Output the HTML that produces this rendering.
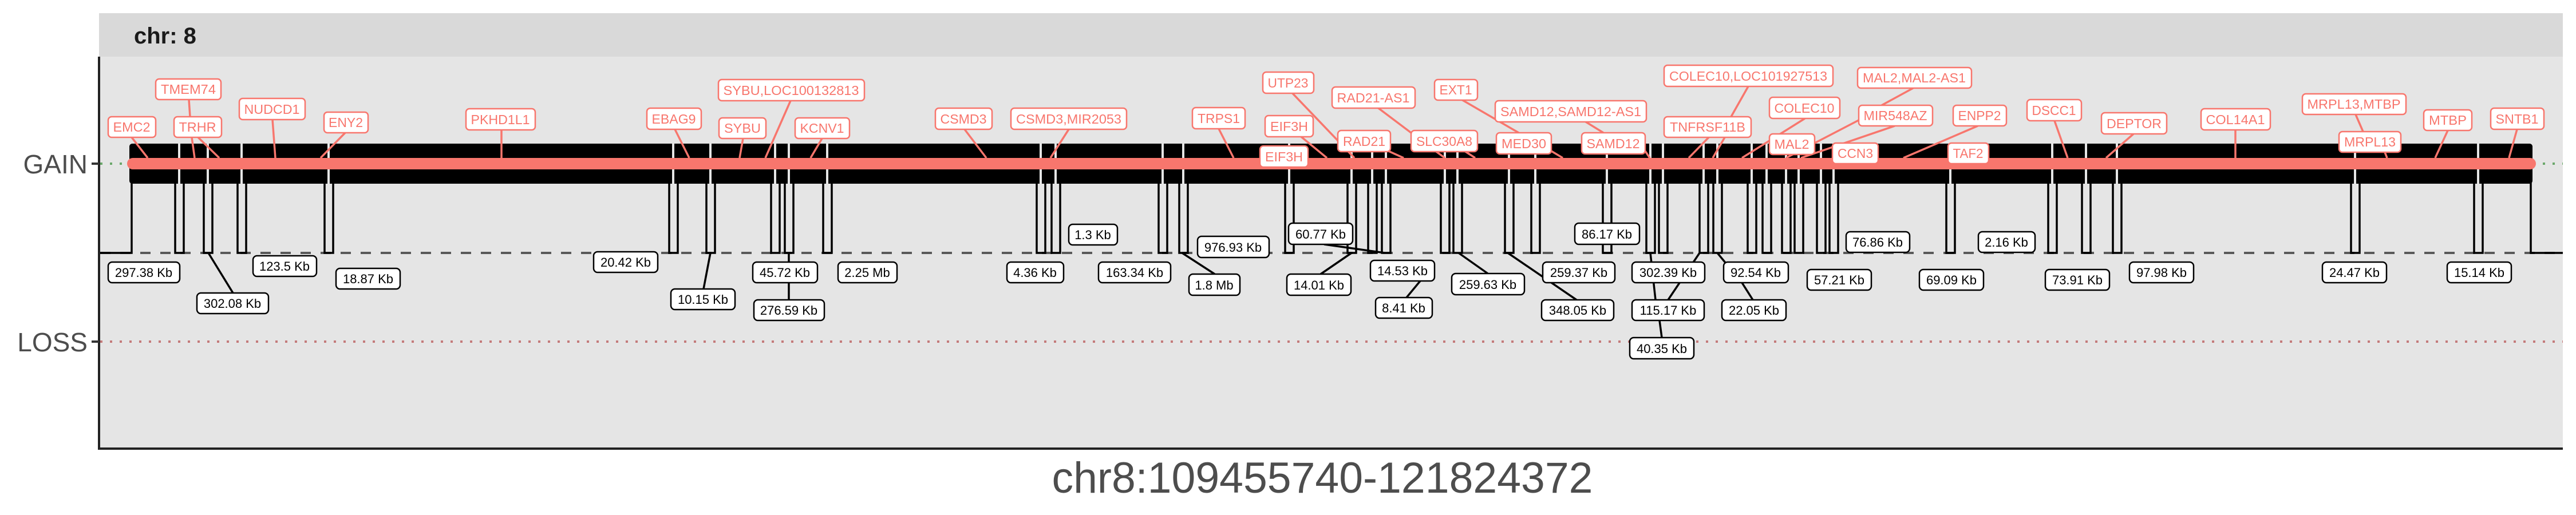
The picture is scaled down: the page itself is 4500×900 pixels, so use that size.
<!DOCTYPE html>
<html><head><meta charset="utf-8"><style>html,body{margin:0;padding:0;background:#fff}svg{display:block}</style></head>
<body>
<svg xmlns="http://www.w3.org/2000/svg" width="4500" height="900" viewBox="0 0 4500 900" font-family="Liberation Sans, sans-serif">
<rect x="0" y="0" width="4500" height="900" fill="#fff"/>
<!-- strip -->
<rect x="173" y="23" width="4304" height="76" fill="#d9d9d9"/>
<text x="234" y="76" font-size="40" font-weight="bold" fill="#1a1a1a">chr: 8</text>
<!-- panel -->
<rect x="173" y="99" width="4304" height="685" fill="#e5e5e5"/>
<!-- reference lines -->
<line x1="175" y1="286" x2="4477" y2="286" stroke="#6aa86a" stroke-width="4" stroke-dasharray="4 13"/>
<line x1="175" y1="597" x2="4477" y2="597" stroke="#c47a7a" stroke-width="4" stroke-dasharray="4 13"/>
<line x1="175" y1="442" x2="4477" y2="442" stroke="#595959" stroke-width="4" stroke-dasharray="18 17"/>
<!-- black band -->
<rect x="226" y="251" width="4198" height="70" rx="5" fill="#000"/>
<g fill="#e5e5e5">
<rect x="311" y="249" width="4" height="74"/><rect x="361" y="249" width="4" height="74"/><rect x="420" y="249" width="4" height="74"/><rect x="572" y="249" width="4" height="74"/><rect x="1174" y="249" width="4" height="74"/><rect x="1239" y="249" width="4" height="74"/><rect x="1352" y="249" width="4" height="74"/><rect x="1376" y="249" width="4" height="74"/><rect x="1443" y="249" width="4" height="74"/><rect x="1816" y="249" width="4" height="74"/><rect x="1842" y="249" width="4" height="74"/><rect x="2029" y="249" width="4" height="74"/><rect x="2065" y="249" width="4" height="74"/><rect x="2250" y="249" width="4" height="74"/><rect x="2359" y="249" width="4" height="74"/><rect x="2395" y="249" width="4" height="74"/><rect x="2419" y="249" width="4" height="74"/><rect x="2522" y="249" width="4" height="74"/><rect x="2544" y="249" width="4" height="74"/><rect x="2634" y="249" width="4" height="74"/><rect x="2680" y="249" width="4" height="74"/><rect x="2805" y="249" width="4" height="74"/><rect x="2881" y="249" width="4" height="74"/><rect x="2903" y="249" width="4" height="74"/><rect x="2974" y="249" width="4" height="74"/><rect x="2998" y="249" width="4" height="74"/><rect x="3058" y="249" width="4" height="74"/><rect x="3084" y="249" width="4" height="74"/><rect x="3118" y="249" width="4" height="74"/><rect x="3140" y="249" width="4" height="74"/><rect x="3179" y="249" width="4" height="74"/><rect x="3201" y="249" width="4" height="74"/><rect x="3405" y="249" width="4" height="74"/><rect x="3583" y="249" width="4" height="74"/><rect x="3642" y="249" width="4" height="74"/><rect x="3696" y="249" width="4" height="74"/><rect x="4112" y="249" width="4" height="74"/><rect x="4327" y="249" width="4" height="74"/>
</g>
<!-- step lines -->
<g fill="none" stroke="#000" stroke-width="3.5">
<path d="M173 442 H230 V315"/>
<path d="M4421 315 V442 H4477"/>
<path d="M306 318V442H321V318"/><path d="M356 318V442H371V318"/><path d="M415 318V442H430V318"/><path d="M567 318V442H582V318"/><path d="M1169 318V442H1184V318"/><path d="M1234 318V442H1249V318"/><path d="M1347 318V442H1362V318"/><path d="M1371 318V442H1386V318"/><path d="M1438 318V442H1453V318"/><path d="M1811 318V442H1826V318"/><path d="M1837 318V442H1852V318"/><path d="M2024 318V442H2039V318"/><path d="M2060 318V442H2075V318"/><path d="M2245 318V442H2260V318"/><path d="M2354 318V442H2369V318"/><path d="M2390 318V442H2405V318"/><path d="M2414 318V442H2429V318"/><path d="M2517 318V442H2532V318"/><path d="M2539 318V442H2554V318"/><path d="M2629 318V442H2644V318"/><path d="M2675 318V442H2690V318"/><path d="M2800 318V442H2815V318"/><path d="M2876 318V442H2891V318"/><path d="M2898 318V442H2913V318"/><path d="M2969 318V442H2984V318"/><path d="M2993 318V442H3008V318"/><path d="M3053 318V442H3068V318"/><path d="M3079 318V442H3094V318"/><path d="M3113 318V442H3128V318"/><path d="M3135 318V442H3150V318"/><path d="M3174 318V442H3189V318"/><path d="M3196 318V442H3211V318"/><path d="M3400 318V442H3415V318"/><path d="M3578 318V442H3593V318"/><path d="M3637 318V442H3652V318"/><path d="M3691 318V442H3706V318"/><path d="M4107 318V442H4122V318"/><path d="M4322 318V442H4337V318"/>
</g>
<!-- red band -->
<line x1="232" y1="286" x2="4420" y2="286" stroke="#f8766d" stroke-width="20" stroke-linecap="round"/>
<!-- axes -->
<line x1="173" y1="99" x2="173" y2="786" stroke="#222" stroke-width="4"/>
<line x1="171" y1="784" x2="4477" y2="784" stroke="#222" stroke-width="4"/>
<line x1="160" y1="286" x2="173" y2="286" stroke="#333" stroke-width="4"/>
<line x1="160" y1="597" x2="173" y2="597" stroke="#333" stroke-width="4"/>
<text x="153" y="303" font-size="46" fill="#4d4d4d" text-anchor="end">GAIN</text>
<text x="153" y="614" font-size="46" fill="#4d4d4d" text-anchor="end">LOSS</text>
<text x="2310" y="861" font-size="76" fill="#4d4d4d" text-anchor="middle" textLength="945" lengthAdjust="spacingAndGlyphs">chr8:109455740-121824372</text>

<!-- gene connectors -->
<g stroke="#f8766d" stroke-width="3.5" fill="none">
<line x1="230" y1="240" x2="258" y2="276"/>
<line x1="330" y1="174" x2="332" y2="204"/>
<line x1="335" y1="240" x2="340" y2="276"/>
<line x1="346" y1="240" x2="383" y2="276"/>
<line x1="476" y1="209" x2="481" y2="276"/>
<line x1="603" y1="232" x2="560" y2="276"/>
<line x1="876" y1="227" x2="876" y2="276"/>
<line x1="1179" y1="226" x2="1204" y2="276"/>
<line x1="1381" y1="176" x2="1337" y2="276"/>
<line x1="1298" y1="242" x2="1292" y2="276"/>
<line x1="1436" y1="242" x2="1416" y2="276"/>
<line x1="1685" y1="226" x2="1723" y2="276"/>
<line x1="1867" y1="226" x2="1835" y2="276"/>
<line x1="2129" y1="225" x2="2155" y2="276"/>
<line x1="2254" y1="159" x2="2366" y2="276"/>
<line x1="2256" y1="225" x2="2318" y2="276"/>
<line x1="2400" y1="183" x2="2465" y2="232"/>
<line x1="2390" y1="248" x2="2452" y2="276"/>
<line x1="2548" y1="171" x2="2653" y2="232"/>
<line x1="2486" y1="248" x2="2524" y2="276"/>
<line x1="2534" y1="248" x2="2577" y2="276"/>
<line x1="2754" y1="203" x2="2801" y2="232"/>
<line x1="2710" y1="264" x2="2730" y2="276"/>
<line x1="2874" y1="264" x2="2882" y2="276"/>
<line x1="3054" y1="151" x2="3024" y2="204"/>
<line x1="2985" y1="240" x2="2950" y2="276"/>
<line x1="3013" y1="240" x2="2992" y2="276"/>
<line x1="3153" y1="207" x2="3043" y2="276"/>
<line x1="3342" y1="154" x2="3287" y2="184"/>
<line x1="3247" y1="210" x2="3120" y2="276"/>
<line x1="3310" y1="220" x2="3146" y2="276"/>
<line x1="3455" y1="220" x2="3325" y2="276"/>
<line x1="3589" y1="211" x2="3612" y2="276"/>
<line x1="3727" y1="234" x2="3679" y2="276"/>
<line x1="3905" y1="227" x2="3905" y2="276"/>
<line x1="4115" y1="200" x2="4128" y2="230"/>
<line x1="4166" y1="266" x2="4170" y2="276"/>
<line x1="4276" y1="228" x2="4254" y2="276"/>
<line x1="4397" y1="226" x2="4383" y2="276"/>
</g>
<!-- gene labels -->
<g font-size="23" fill="#f8766d" text-anchor="middle">
<g fill="#fff" stroke="#f8766d" stroke-width="2.5">
<rect x="189" y="204" width="83" height="36" rx="6"/>
<rect x="272" y="138" width="114" height="36" rx="6"/>
<rect x="304" y="204" width="83" height="36" rx="6"/>
<rect x="418" y="172" width="115" height="37" rx="6"/>
<rect x="566" y="196" width="77" height="36" rx="6"/>
<rect x="814" y="190" width="121" height="37" rx="6"/>
<rect x="1130" y="189" width="95" height="37" rx="6"/>
<rect x="1255" y="139" width="255" height="37" rx="6"/>
<rect x="1256" y="206" width="82" height="36" rx="6"/>
<rect x="1389" y="206" width="95" height="36" rx="6"/>
<rect x="1634" y="189" width="99" height="37" rx="6"/>
<rect x="1766" y="189" width="202" height="37" rx="6"/>
<rect x="2083" y="188" width="92" height="37" rx="6"/>
<rect x="2206" y="126" width="89" height="37" rx="6"/>
<rect x="2210" y="202" width="84" height="37" rx="6"/>
<rect x="2201" y="278" width="84" height="37" rx="6" transform="translate(0,-23)"/>
<rect x="2327" y="152" width="145" height="37" rx="6"/>
<rect x="2337" y="228" width="92" height="37" rx="6"/>
<rect x="2506" y="139" width="75" height="36" rx="6"/>
<rect x="2465" y="228" width="116" height="37" rx="6"/>
<rect x="2612" y="176" width="264" height="37" rx="6"/>
<rect x="2614" y="232" width="96" height="37" rx="6"/>
<rect x="2763" y="232" width="111" height="37" rx="6"/>
<rect x="2907" y="114" width="295" height="37" rx="6"/>
<rect x="2907" y="204" width="152" height="36" rx="6"/>
<rect x="3091" y="170" width="123" height="37" rx="6"/>
<rect x="3245" y="118" width="199" height="36" rx="6"/>
<rect x="3247" y="184" width="129" height="36" rx="6"/>
<rect x="3412" y="184" width="93" height="36" rx="6"/>
<rect x="3091" y="234" width="79" height="36" rx="6"/>
<rect x="3201" y="250" width="80" height="36" rx="6"/>
<rect x="3403" y="250" width="71" height="36" rx="6"/>
<rect x="3541" y="174" width="95" height="37" rx="6"/>
<rect x="3671" y="197" width="114" height="37" rx="6"/>
<rect x="3845" y="190" width="121" height="37" rx="6"/>
<rect x="4022" y="164" width="181" height="36" rx="6"/>
<rect x="4086" y="230" width="108" height="36" rx="6"/>
<rect x="4234" y="192" width="84" height="36" rx="6"/>
<rect x="4351" y="189" width="93" height="37" rx="6"/>
</g>
<text x="230" y="230" textLength="65" lengthAdjust="spacingAndGlyphs">EMC2</text>
<text x="329" y="164" textLength="96" lengthAdjust="spacingAndGlyphs">TMEM74</text>
<text x="345" y="230" textLength="65" lengthAdjust="spacingAndGlyphs">TRHR</text>
<text x="475" y="199" textLength="97" lengthAdjust="spacingAndGlyphs">NUDCD1</text>
<text x="604" y="222" textLength="60" lengthAdjust="spacingAndGlyphs">ENY2</text>
<text x="874" y="217" textLength="103" lengthAdjust="spacingAndGlyphs">PKHD1L1</text>
<text x="1177" y="216" textLength="77" lengthAdjust="spacingAndGlyphs">EBAG9</text>
<text x="1382" y="166" textLength="237" lengthAdjust="spacingAndGlyphs">SYBU,LOC100132813</text>
<text x="1297" y="232" textLength="64" lengthAdjust="spacingAndGlyphs">SYBU</text>
<text x="1436" y="232" textLength="77" lengthAdjust="spacingAndGlyphs">KCNV1</text>
<text x="1683" y="216" textLength="81" lengthAdjust="spacingAndGlyphs">CSMD3</text>
<text x="1867" y="216" textLength="184" lengthAdjust="spacingAndGlyphs">CSMD3,MIR2053</text>
<text x="2129" y="215" textLength="74" lengthAdjust="spacingAndGlyphs">TRPS1</text>
<text x="2250" y="153" textLength="71" lengthAdjust="spacingAndGlyphs">UTP23</text>
<text x="2252" y="229" textLength="66" lengthAdjust="spacingAndGlyphs">EIF3H</text>
<text x="2243" y="282" textLength="66" lengthAdjust="spacingAndGlyphs">EIF3H</text>
<text x="2399" y="179" textLength="127" lengthAdjust="spacingAndGlyphs">RAD21-AS1</text>
<text x="2383" y="255" textLength="74" lengthAdjust="spacingAndGlyphs">RAD21</text>
<text x="2543" y="165" textLength="57" lengthAdjust="spacingAndGlyphs">EXT1</text>
<text x="2523" y="255" textLength="98" lengthAdjust="spacingAndGlyphs">SLC30A8</text>
<text x="2744" y="203" textLength="246" lengthAdjust="spacingAndGlyphs">SAMD12,SAMD12-AS1</text>
<text x="2662" y="259" textLength="78" lengthAdjust="spacingAndGlyphs">MED30</text>
<text x="2818" y="259" textLength="93" lengthAdjust="spacingAndGlyphs">SAMD12</text>
<text x="3054" y="141" textLength="276" lengthAdjust="spacingAndGlyphs">COLEC10,LOC101927513</text>
<text x="2983" y="230" textLength="132" lengthAdjust="spacingAndGlyphs">TNFRSF11B</text>
<text x="3152" y="197" textLength="105" lengthAdjust="spacingAndGlyphs">COLEC10</text>
<text x="3344" y="144" textLength="180" lengthAdjust="spacingAndGlyphs">MAL2,MAL2-AS1</text>
<text x="3311" y="210" textLength="111" lengthAdjust="spacingAndGlyphs">MIR548AZ</text>
<text x="3458" y="210" textLength="75" lengthAdjust="spacingAndGlyphs">ENPP2</text>
<text x="3130" y="260" textLength="61" lengthAdjust="spacingAndGlyphs">MAL2</text>
<text x="3241" y="276" textLength="62" lengthAdjust="spacingAndGlyphs">CCN3</text>
<text x="3438" y="276" textLength="53" lengthAdjust="spacingAndGlyphs">TAF2</text>
<text x="3588" y="201" textLength="77" lengthAdjust="spacingAndGlyphs">DSCC1</text>
<text x="3728" y="224" textLength="96" lengthAdjust="spacingAndGlyphs">DEPTOR</text>
<text x="3905" y="217" textLength="103" lengthAdjust="spacingAndGlyphs">COL14A1</text>
<text x="4112" y="190" textLength="163" lengthAdjust="spacingAndGlyphs">MRPL13,MTBP</text>
<text x="4140" y="256" textLength="90" lengthAdjust="spacingAndGlyphs">MRPL13</text>
<text x="4276" y="218" textLength="66" lengthAdjust="spacingAndGlyphs">MTBP</text>
<text x="4397" y="216" textLength="75" lengthAdjust="spacingAndGlyphs">SNTB1</text>
</g>

<!-- size connectors -->
<g stroke="#000" stroke-width="3.5" fill="none">
<line x1="364" y1="442" x2="407" y2="512"/>
<line x1="1241" y1="442" x2="1229" y2="505"/>
<line x1="1378" y1="442" x2="1378" y2="524"/>
<line x1="2065" y1="442" x2="2122" y2="479"/>
<line x1="2313" y1="427" x2="2419" y2="442"/>
<line x1="2361" y1="442" x2="2307" y2="479"/>
<line x1="2481" y1="491" x2="2457" y2="520"/>
<line x1="2548" y1="442" x2="2599" y2="478"/>
<line x1="2634" y1="442" x2="2754" y2="524"/>
<line x1="2883" y1="442" x2="2892" y2="524"/>
<line x1="2969" y1="442" x2="2914" y2="524"/>
<line x1="2899" y1="560" x2="2903" y2="590"/>
<line x1="3000" y1="442" x2="3014" y2="459"/>
<line x1="3043" y1="494" x2="3062" y2="524"/>
</g>
<!-- size labels -->
<g font-size="22" fill="#000" text-anchor="middle">
<g fill="#fff" stroke="#000" stroke-width="2.5">
<rect x="189" y="458" width="125" height="36" rx="7"/>
<rect x="344" y="512" width="125" height="36" rx="7"/>
<rect x="442" y="447" width="111" height="36" rx="7"/>
<rect x="587" y="469" width="112" height="36" rx="7"/>
<rect x="1037" y="440" width="112" height="36" rx="7"/>
<rect x="1172" y="505" width="112" height="36" rx="7"/>
<rect x="1315" y="458" width="113" height="36" rx="7"/>
<rect x="1317" y="524" width="123" height="36" rx="7"/>
<rect x="1464" y="458" width="103" height="36" rx="7"/>
<rect x="1759" y="458" width="99" height="36" rx="7"/>
<rect x="1867" y="392" width="85" height="36" rx="7"/>
<rect x="1919" y="458" width="126" height="36" rx="7"/>
<rect x="2092" y="413" width="125" height="37" rx="7"/>
<rect x="2077" y="479" width="89" height="37" rx="7"/>
<rect x="2251" y="390" width="112" height="37" rx="7"/>
<rect x="2248" y="479" width="112" height="37" rx="7"/>
<rect x="2394" y="455" width="112" height="36" rx="7"/>
<rect x="2403" y="520" width="99" height="36" rx="7"/>
<rect x="2536" y="478" width="127" height="37" rx="7"/>
<rect x="2751" y="390" width="113" height="37" rx="7"/>
<rect x="2695" y="458" width="126" height="36" rx="7"/>
<rect x="2693" y="524" width="126" height="36" rx="7"/>
<rect x="2851" y="458" width="127" height="36" rx="7"/>
<rect x="2851" y="524" width="126" height="36" rx="7"/>
<rect x="2847" y="590" width="112" height="37" rx="7"/>
<rect x="3011" y="458" width="113" height="36" rx="7"/>
<rect x="3008" y="524" width="112" height="36" rx="7"/>
<rect x="3225" y="405" width="111" height="36" rx="7"/>
<rect x="3157" y="471" width="112" height="36" rx="7"/>
<rect x="3353" y="471" width="112" height="36" rx="7"/>
<rect x="3456" y="405" width="99" height="36" rx="7"/>
<rect x="3573" y="471" width="112" height="36" rx="7"/>
<rect x="3720" y="458" width="112" height="36" rx="7"/>
<rect x="4057" y="458" width="112" height="36" rx="7"/>
<rect x="4275" y="458" width="112" height="36" rx="7"/>
</g>
<text x="251" y="484">297.38 Kb</text>
<text x="406" y="538">302.08 Kb</text>
<text x="497" y="473">123.5 Kb</text>
<text x="643" y="495">18.87 Kb</text>
<text x="1093" y="466">20.42 Kb</text>
<text x="1228" y="531">10.15 Kb</text>
<text x="1371" y="484">45.72 Kb</text>
<text x="1378" y="550">276.59 Kb</text>
<text x="1515" y="484">2.25 Mb</text>
<text x="1808" y="484">4.36 Kb</text>
<text x="1909" y="418">1.3 Kb</text>
<text x="1982" y="484">163.34 Kb</text>
<text x="2154" y="440">976.93 Kb</text>
<text x="2121" y="506">1.8 Mb</text>
<text x="2307" y="417">60.77 Kb</text>
<text x="2304" y="506">14.01 Kb</text>
<text x="2450" y="481">14.53 Kb</text>
<text x="2452" y="546">8.41 Kb</text>
<text x="2599" y="505">259.63 Kb</text>
<text x="2807" y="417">86.17 Kb</text>
<text x="2758" y="484">259.37 Kb</text>
<text x="2756" y="550">348.05 Kb</text>
<text x="2914" y="484">302.39 Kb</text>
<text x="2914" y="550">115.17 Kb</text>
<text x="2903" y="617">40.35 Kb</text>
<text x="3067" y="484">92.54 Kb</text>
<text x="3064" y="550">22.05 Kb</text>
<text x="3280" y="431">76.86 Kb</text>
<text x="3213" y="497">57.21 Kb</text>
<text x="3409" y="497">69.09 Kb</text>
<text x="3505" y="431">2.16 Kb</text>
<text x="3629" y="497">73.91 Kb</text>
<text x="3776" y="484">97.98 Kb</text>
<text x="4113" y="484">24.47 Kb</text>
<text x="4331" y="484">15.14 Kb</text>
</g>
</svg>
</body></html>
